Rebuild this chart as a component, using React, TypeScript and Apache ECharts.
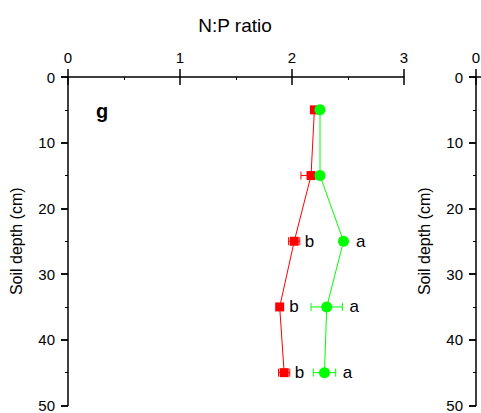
import React, { useEffect, useRef } from "react";
import * as echarts from "echarts";

const depths = [5, 15, 25, 35, 45];
const redValues = [2.2, 2.17, 2.02, 1.89, 1.93];
const redErrors = [0.03, 0.09, 0.05, 0.02, 0.05];
const redLetters = ["", "", "b", "b", "b"];
const greenValues = [2.25, 2.25, 2.46, 2.31, 2.29];
const greenErrors = [0.02, 0.02, 0.03, 0.14, 0.1];
const greenLetters = ["", "", "a", "a", "a"];
const xTicks = [0, 1, 2, 3];
const yTicks = [0, 10, 20, 30, 40, 50];
const xTitle = "N:P ratio";
const yTitle = "Soil depth (cm)";
const panelLabel = "g";

const FONT = "'Liberation Sans', Arial, sans-serif";
const RED = "#ff0000";
const GREEN = "#00ff00";

export default function App() {
  const ref = useRef<HTMLDivElement>(null);
  useEffect(() => {
    if (!ref.current) return;
    const chart = echarts.init(ref.current, null, { renderer: "svg" });

    const grids = [
      { left: 65, top: 77, width: 339, height: 330 },
      { left: 476, top: 77, width: 339, height: 330 },
    ];

    const xAxes: any[] = [];
    const yAxes: any[] = [];
    grids.forEach((_, gi) => {
      xAxes.push({
        gridIndex: gi,
        type: "value",
        position: "top",
        min: xTicks[0],
        max: xTicks[xTicks.length - 1],
        interval: 1,
        axisLine: { show: true, lineStyle: { color: "#000", width: 1.5 } },
        axisTick: { show: true, inside: false, length: 8, lineStyle: { color: "#000", width: 1.5 } },
        axisLabel: { show: true, margin: 12, color: "#000", fontSize: 15, fontFamily: FONT },
        splitLine: { show: false },
      });
      xAxes.push({
        gridIndex: gi,
        type: "value",
        position: "top",
        min: xTicks[0],
        max: xTicks[xTicks.length - 1],
        interval: 1,
        axisLine: { show: false },
        axisTick: { show: true, inside: true, length: 8, lineStyle: { color: "#000", width: 1.5 } },
        minorTick: { show: true, splitNumber: 2, length: 3, lineStyle: { color: "#000", width: 1 } },
        axisLabel: { show: false },
        splitLine: { show: false },
      });
      yAxes.push({
        gridIndex: gi,
        type: "value",
        inverse: true,
        min: yTicks[0],
        max: yTicks[yTicks.length - 1],
        interval: 10,
        name: yTitle,
        nameLocation: "middle",
        nameRotate: 90,
        nameGap: 44,
        nameTextStyle: { color: "#000", fontSize: 16, fontFamily: FONT },
        axisLine: { show: true, lineStyle: { color: "#000", width: 1.5 } },
        axisTick: { show: true, inside: false, length: 7, lineStyle: { color: "#000", width: 1.5 } },
        axisLabel: { show: true, margin: 13, color: "#000", fontSize: 15, fontFamily: FONT },
        splitLine: { show: false },
      });
      yAxes.push({
        gridIndex: gi,
        type: "value",
        inverse: true,
        min: yTicks[0],
        max: yTicks[yTicks.length - 1],
        interval: 10,
        axisLine: { show: false },
        axisTick: { show: true, inside: true, length: 7, lineStyle: { color: "#000", width: 1.5 } },
        minorTick: { show: true, splitNumber: 2, length: 3, lineStyle: { color: "#000", width: 1 } },
        axisLabel: { show: false },
        splitLine: { show: false },
      });
    });

    const errSeries = (vals: number[], errs: number[], color: string) => ({
      type: "custom",
      xAxisIndex: 0,
      yAxisIndex: 0,
      z: 2,
      data: vals.map((v, i) => [v, depths[i], errs[i]]),
      renderItem: (params: any, api: any) => {
        const x = api.value(0);
        const y = api.value(1);
        const e = api.value(2);
        const l = api.coord([x - e, y]);
        const r = api.coord([x + e, y]);
        const st = { stroke: color, lineWidth: 1 };
        return {
          type: "group",
          children: [
            { type: "line", shape: { x1: l[0], y1: l[1], x2: r[0], y2: r[1] }, style: st },
            { type: "line", shape: { x1: l[0], y1: l[1] - 4, x2: l[0], y2: l[1] + 4 }, style: st },
            { type: "line", shape: { x1: r[0], y1: r[1] - 4, x2: r[0], y2: r[1] + 4 }, style: st },
          ],
        };
      },
    });

    const letterSeries = (vals: number[], errs: number[], letters: string[], half: number, gap: number) => ({
      type: "custom",
      xAxisIndex: 0,
      yAxisIndex: 0,
      z: 5,
      data: vals.map((v, i) => [v, depths[i], errs[i]]),
      renderItem: (params: any, api: any) => {
        const x = api.value(0);
        const y = api.value(1);
        const e = api.value(2);
        const c = api.coord([x, y]);
        const r = api.coord([x + e, y]);
        const tx = Math.max(r[0], c[0] + half) + gap;
        return {
          type: "text",
          x: tx,
          y: c[1],
          style: {
            text: letters[params.dataIndex],
            fill: "#000",
            fontSize: 17,
            fontFamily: FONT,
            verticalAlign: "middle",
            align: "left",
          },
        };
      },
    });

    const option: any = {
      animation: false,
      grid: grids,
      xAxis: xAxes,
      yAxis: yAxes,
      graphic: [
        {
          type: "text",
          x: 235,
          y: 25,
          style: { text: xTitle, fill: "#000", fontSize: 19, fontFamily: FONT, align: "center", verticalAlign: "middle" },
        },
        {
          type: "text",
          x: 96,
          y: 111,
          style: { text: panelLabel, fill: "#000", fontSize: 20, fontWeight: "bold", fontFamily: FONT, align: "left", verticalAlign: "middle" },
        },
      ],
      series: [
        errSeries(redValues, redErrors, RED),
        errSeries(greenValues, greenErrors, GREEN),
        {
          type: "line",
          xAxisIndex: 0,
          yAxisIndex: 0,
          z: 3,
          data: redValues.map((v, i) => [v, depths[i]]),
          symbol: "rect",
          symbolSize: 9,
          showAllSymbol: true,
          lineStyle: { color: RED, width: 1 },
          itemStyle: { color: RED },
        },
        {
          type: "line",
          xAxisIndex: 0,
          yAxisIndex: 0,
          z: 4,
          data: greenValues.map((v, i) => [v, depths[i]]),
          symbol: "circle",
          symbolSize: 11,
          showAllSymbol: true,
          lineStyle: { color: GREEN, width: 1 },
          itemStyle: { color: GREEN },
        },
        letterSeries(redValues, redErrors, redLetters, 4.5, 5),
        letterSeries(greenValues, greenErrors, greenLetters, 5.5, 7),
      ],
    };
    chart.setOption(option);
    return () => chart.dispose();
  }, []);
  return (
    <div
      ref={ref}
      style={{ position: "absolute", left: 0, top: 0, width: 481, height: 413 }}
    />
  );
}
